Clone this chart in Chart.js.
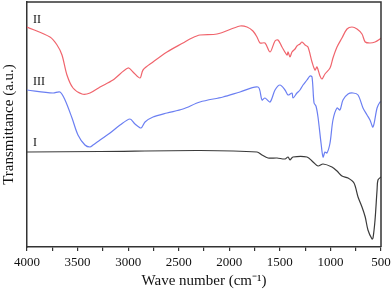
<!DOCTYPE html>
<html>
<head>
<meta charset="utf-8">
<script src="https://cdn.jsdelivr.net/npm/chart.js@4"></script>
<style>
  html, body { margin: 0; padding: 0; background: #fff; }
  #wrap { width: 392px; height: 293px; }
</style>
</head>
<body>
<div id="wrap"><canvas id="chart" width="392" height="293"></canvas></div>
<script>
// FTIR spectra (transmittance in arbitrary units)
const waveII = [4000, 3773, 3703, 3654, 3605, 3545, 3456, 3377, 3278, 3150, 3001, 2952, 2883, 2853, 2754, 2616, 2458, 2369, 2290, 2122, 1894, 1825, 1766, 1726, 1696, 1647, 1597, 1548, 1518, 1479, 1429, 1419, 1400, 1380, 1350, 1331, 1301, 1281, 1251, 1222, 1182, 1153, 1133, 1103, 1083, 1054, 1004, 975, 935, 886, 836, 787, 737, 688, 656, 609, 559, 510, 500];
const transII = [220, 210, 202, 192, 172, 159, 153, 154, 160, 167, 179, 175, 169, 177, 185, 195, 204, 209, 212, 213, 221, 220, 216, 210, 204, 204, 195, 206, 207, 200, 192, 195, 190, 195, 198, 201, 203, 205, 202, 200, 185, 177, 180, 171, 168, 173, 179, 189, 200, 209, 218, 220, 218, 213, 205, 204, 205, 208, 209];

const waveIII = [4000, 3743, 3674, 3624, 3555, 3496, 3427, 3377, 3347, 3278, 3179, 3080, 2982, 2932, 2873, 2833, 2754, 2616, 2458, 2290, 2062, 1894, 1716, 1677, 1647, 1597, 1548, 1499, 1449, 1419, 1380, 1370, 1331, 1301, 1271, 1232, 1202, 1182, 1162, 1143, 1123, 1093, 1073, 1054, 1034, 1004, 975, 935, 906, 876, 826, 777, 727, 678, 638, 609, 579, 539, 510, 500];
const transIII = [157, 154, 155, 147, 129, 112, 102, 100, 102, 107, 114, 122, 128, 123, 119, 125, 130, 134, 138, 145, 150, 155, 160, 147, 149, 145, 157, 162, 157, 152, 154, 149, 154, 157, 162, 167, 171, 170, 144, 141, 130, 104, 90, 95, 94, 104, 127, 139, 137, 147, 153, 154, 152, 139, 132, 127, 120, 139, 145, 145];

const waveI = [4000, 3278, 2290, 1726, 1677, 1617, 1528, 1449, 1419, 1400, 1370, 1232, 1172, 1123, 1073, 985, 935, 886, 826, 767, 727, 688, 656, 629, 589, 579, 559, 539, 530, 500];
const transI = [95, 95.5, 96.5, 95, 92, 89, 89, 88, 90, 87, 90, 90, 85, 81, 83, 80, 76, 71, 69, 64, 50, 40, 30, 17, 8, 9, 27, 57, 67, 70];

const xTicks = [4000, 3500, 3000, 2500, 2000, 1500, 1000, 500];

const serif = "'Liberation Serif', 'Times New Roman', serif";
const axisColor = '#333';

function points(xs, ys) {
  return xs.map((x, i) => ({ x: x, y: ys[i] }));
}

// closes the box on the top and right sides and writes the curve names
const framePlugin = {
  id: 'frame',
  afterDraw(chart) {
    const { ctx, chartArea, scales } = chart;
    ctx.save();
    ctx.strokeStyle = axisColor;
    ctx.lineWidth = 1.5;
    ctx.beginPath();
    ctx.moveTo(chartArea.left, chartArea.top);
    ctx.lineTo(chartArea.right, chartArea.top);
    ctx.lineTo(chartArea.right, chartArea.bottom);
    ctx.stroke();

    ctx.fillStyle = '#111';
    ctx.font = '12px ' + serif;
    ctx.textBaseline = 'middle';
    ctx.textAlign = 'left';
    const names = [['II', 227], ['III', 165], ['I', 104]];
    names.forEach(([txt, v]) => {
      ctx.fillText(txt, scales.x.getPixelForValue(3940), scales.y.getPixelForValue(v));
    });
    ctx.restore();
  }
};

const config = {
  type: 'line',
  data: {
    datasets: [
      {
        label: 'II',
        data: points(waveII, transII),
        borderColor: '#f0646c',
        borderWidth: 1.2,
        pointRadius: 0,
        tension: 0.3
      },
      {
        label: 'III',
        data: points(waveIII, transIII),
        borderColor: '#6b7ff2',
        borderWidth: 1.2,
        pointRadius: 0,
        tension: 0.3
      },
      {
        label: 'I',
        data: points(waveI, transI),
        borderColor: '#3a3a3a',
        borderWidth: 1.2,
        pointRadius: 0,
        tension: 0.3
      }
    ]
  },
  options: {
    responsive: false,
    animation: false,
    events: [],
    layout: { padding: { top: 2, right: 11, left: 0, bottom: 0 } },
    plugins: {
      legend: { display: false },
      tooltip: { enabled: false }
    },
    scales: {
      x: {
        type: 'linear',
        reverse: true,
        min: 500,
        max: 4000,
        afterFit(scale) { scale.height = 46; },
        afterBuildTicks(scale) {
          const t = [];
          for (let v = 500; v <= 4000; v += 250) t.push({ value: v });
          scale.ticks = t;
        },
        ticks: {
          color: '#111',
          font: { family: serif, size: 13 },
          padding: 4,
          maxRotation: 0,
          autoSkip: false,
          callback: (v) => xTicks.includes(v) ? String(v) : ''
        },
        grid: {
          display: true,
          drawOnChartArea: false,
          tickLength: 4,
          color: axisColor,
          lineWidth: 1.2
        },
        border: { display: true, color: axisColor, width: 1.5 },
        title: {
          display: true,
          text: 'Wave number (cm\u207B\u00B9)',
          color: '#111',
          font: { family: serif, size: 15 },
          padding: { top: 0, bottom: 3 }
        }
      },
      y: {
        min: 0,
        max: 245,
        afterFit(scale) { scale.width = 27; },
        ticks: { display: false },
        grid: { display: false },
        border: { display: true, color: axisColor, width: 1.5 },
        title: {
          display: true,
          text: 'Transmittance (a.u.)',
          color: '#111',
          font: { family: serif, size: 15 },
          padding: { top: 0, bottom: 0 }
        }
      }
    }
  },
  plugins: [framePlugin]
};

new Chart(document.getElementById('chart').getContext('2d'), config);
</script>
</body>
</html>
